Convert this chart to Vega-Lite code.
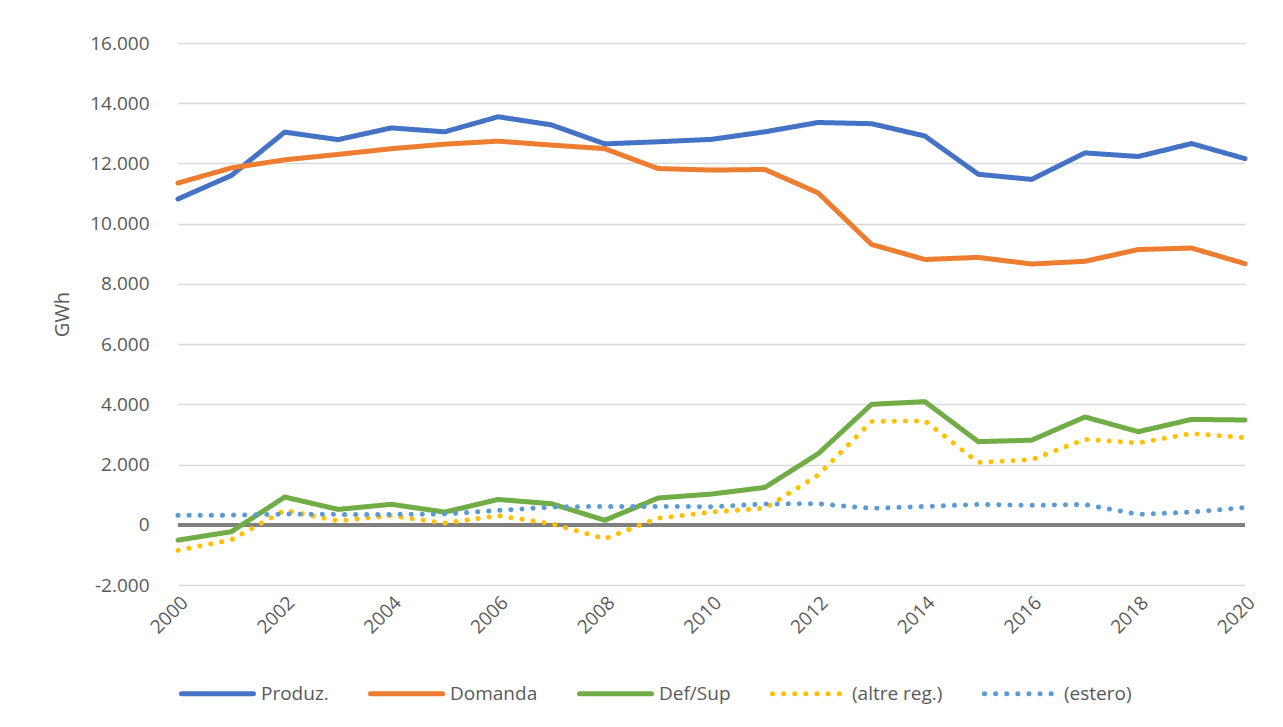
{
  "$schema": "https://vega.github.io/schema/vega-lite/v6.json",
  "width": 1067,
  "height": 542,
  "autosize": {"type": "none"},
  "padding": {"left": 178, "top": 43, "right": 38, "bottom": 142},
  "background": "white",
  "config": {"view": {"stroke": null}, "font": "Open Sans"},
  "data": {"values": [
    {"year": 2000, "series": "Produz.", "value": 10820},
    {"year": 2001, "series": "Produz.", "value": 11600},
    {"year": 2002, "series": "Produz.", "value": 13040},
    {"year": 2003, "series": "Produz.", "value": 12790},
    {"year": 2004, "series": "Produz.", "value": 13180},
    {"year": 2005, "series": "Produz.", "value": 13050},
    {"year": 2006, "series": "Produz.", "value": 13550},
    {"year": 2007, "series": "Produz.", "value": 13280},
    {"year": 2008, "series": "Produz.", "value": 12650},
    {"year": 2009, "series": "Produz.", "value": 12720},
    {"year": 2010, "series": "Produz.", "value": 12800},
    {"year": 2011, "series": "Produz.", "value": 13050},
    {"year": 2012, "series": "Produz.", "value": 13360},
    {"year": 2013, "series": "Produz.", "value": 13320},
    {"year": 2014, "series": "Produz.", "value": 12910},
    {"year": 2015, "series": "Produz.", "value": 11640},
    {"year": 2016, "series": "Produz.", "value": 11470},
    {"year": 2017, "series": "Produz.", "value": 12350},
    {"year": 2018, "series": "Produz.", "value": 12230},
    {"year": 2019, "series": "Produz.", "value": 12660},
    {"year": 2020, "series": "Produz.", "value": 12160},
    {"year": 2000, "series": "Domanda", "value": 11350},
    {"year": 2001, "series": "Domanda", "value": 11850},
    {"year": 2002, "series": "Domanda", "value": 12120},
    {"year": 2003, "series": "Domanda", "value": 12300},
    {"year": 2004, "series": "Domanda", "value": 12490},
    {"year": 2005, "series": "Domanda", "value": 12640},
    {"year": 2006, "series": "Domanda", "value": 12740},
    {"year": 2007, "series": "Domanda", "value": 12610},
    {"year": 2008, "series": "Domanda", "value": 12490},
    {"year": 2009, "series": "Domanda", "value": 11830},
    {"year": 2010, "series": "Domanda", "value": 11780},
    {"year": 2011, "series": "Domanda", "value": 11800},
    {"year": 2012, "series": "Domanda", "value": 11020},
    {"year": 2013, "series": "Domanda", "value": 9310},
    {"year": 2014, "series": "Domanda", "value": 8810},
    {"year": 2015, "series": "Domanda", "value": 8880},
    {"year": 2016, "series": "Domanda", "value": 8660},
    {"year": 2017, "series": "Domanda", "value": 8750},
    {"year": 2018, "series": "Domanda", "value": 9140},
    {"year": 2019, "series": "Domanda", "value": 9190},
    {"year": 2020, "series": "Domanda", "value": 8670},
    {"year": 2000, "series": "Def/Sup", "value": -510},
    {"year": 2001, "series": "Def/Sup", "value": -230},
    {"year": 2002, "series": "Def/Sup", "value": 920},
    {"year": 2003, "series": "Def/Sup", "value": 510},
    {"year": 2004, "series": "Def/Sup", "value": 680},
    {"year": 2005, "series": "Def/Sup", "value": 420},
    {"year": 2006, "series": "Def/Sup", "value": 840},
    {"year": 2007, "series": "Def/Sup", "value": 700},
    {"year": 2008, "series": "Def/Sup", "value": 150},
    {"year": 2009, "series": "Def/Sup", "value": 890},
    {"year": 2010, "series": "Def/Sup", "value": 1020},
    {"year": 2011, "series": "Def/Sup", "value": 1240},
    {"year": 2012, "series": "Def/Sup", "value": 2360},
    {"year": 2013, "series": "Def/Sup", "value": 4000},
    {"year": 2014, "series": "Def/Sup", "value": 4090},
    {"year": 2015, "series": "Def/Sup", "value": 2760},
    {"year": 2016, "series": "Def/Sup", "value": 2810},
    {"year": 2017, "series": "Def/Sup", "value": 3580},
    {"year": 2018, "series": "Def/Sup", "value": 3090},
    {"year": 2019, "series": "Def/Sup", "value": 3500},
    {"year": 2020, "series": "Def/Sup", "value": 3480},
    {"year": 2000, "series": "(altre reg.)", "value": -850},
    {"year": 2001, "series": "(altre reg.)", "value": -500},
    {"year": 2002, "series": "(altre reg.)", "value": 480},
    {"year": 2003, "series": "(altre reg.)", "value": 130},
    {"year": 2004, "series": "(altre reg.)", "value": 300},
    {"year": 2005, "series": "(altre reg.)", "value": 55},
    {"year": 2006, "series": "(altre reg.)", "value": 300},
    {"year": 2007, "series": "(altre reg.)", "value": 35},
    {"year": 2008, "series": "(altre reg.)", "value": -465},
    {"year": 2009, "series": "(altre reg.)", "value": 220},
    {"year": 2010, "series": "(altre reg.)", "value": 420},
    {"year": 2011, "series": "(altre reg.)", "value": 550},
    {"year": 2012, "series": "(altre reg.)", "value": 1650},
    {"year": 2013, "series": "(altre reg.)", "value": 3430},
    {"year": 2014, "series": "(altre reg.)", "value": 3450},
    {"year": 2015, "series": "(altre reg.)", "value": 2070},
    {"year": 2016, "series": "(altre reg.)", "value": 2160},
    {"year": 2017, "series": "(altre reg.)", "value": 2840},
    {"year": 2018, "series": "(altre reg.)", "value": 2720},
    {"year": 2019, "series": "(altre reg.)", "value": 3030},
    {"year": 2020, "series": "(altre reg.)", "value": 2890},
    {"year": 2000, "series": "(estero)", "value": 320},
    {"year": 2001, "series": "(estero)", "value": 320},
    {"year": 2002, "series": "(estero)", "value": 355},
    {"year": 2003, "series": "(estero)", "value": 345},
    {"year": 2004, "series": "(estero)", "value": 345},
    {"year": 2005, "series": "(estero)", "value": 355},
    {"year": 2006, "series": "(estero)", "value": 475},
    {"year": 2007, "series": "(estero)", "value": 590},
    {"year": 2008, "series": "(estero)", "value": 610},
    {"year": 2009, "series": "(estero)", "value": 610},
    {"year": 2010, "series": "(estero)", "value": 600},
    {"year": 2011, "series": "(estero)", "value": 690},
    {"year": 2012, "series": "(estero)", "value": 700},
    {"year": 2013, "series": "(estero)", "value": 545},
    {"year": 2014, "series": "(estero)", "value": 610},
    {"year": 2015, "series": "(estero)", "value": 675},
    {"year": 2016, "series": "(estero)", "value": 645},
    {"year": 2017, "series": "(estero)", "value": 675},
    {"year": 2018, "series": "(estero)", "value": 345},
    {"year": 2019, "series": "(estero)", "value": 420},
    {"year": 2020, "series": "(estero)", "value": 575}
  ]},
  "layer": [
    {
      "mark": {"type": "rule", "color": "#808080", "strokeWidth": 3},
      "encoding": {"y": {"datum": 0, "type": "quantitative", "title": "GWh"}}
    },
    {
      "mark": {"type": "line", "strokeWidth": 5, "strokeCap": "round", "strokeJoin": "round"},
      "encoding": {
        "x": {
          "field": "year", "type": "quantitative",
          "scale": {"domain": [2000, 2020], "nice": false, "zero": false},
          "axis": {
            "title": null, "values": [2000, 2002, 2004, 2006, 2008, 2010, 2012, 2014, 2016, 2018, 2020],
            "format": "d", "labelAngle": -45, "labelFontSize": 19, "labelColor": "#595959",
            "grid": false, "domain": false, "ticks": false, "labelPadding": 8
          }
        },
        "y": {
          "field": "value", "type": "quantitative",
          "scale": {"domain": [-2000, 16000], "nice": false},
          "axis": {
            "title": "GWh", "values": [-2000, 0, 2000, 4000, 6000, 8000, 10000, 12000, 14000, 16000],
            "labelExpr": "replace(replace(format(datum.value, ','), ',', '.'), '\u2212', '-')",
            "domain": false, "ticks": false, "grid": true, "gridColor": "#D9D9D9", "gridWidth": 1.5,
            "labelFontSize": 19, "labelColor": "#595959", "labelPadding": 29,
            "titleFontSize": 20, "titleColor": "#595959", "titleFontWeight": "normal", "titlePadding": 17
          }
        },
        "color": {
          "field": "series", "type": "nominal",
          "scale": {
            "domain": ["Produz.", "Domanda", "Def/Sup", "(altre reg.)", "(estero)"],
            "range": ["#4472C4", "#ED7D31", "#70AD47", "#FFC000", "#5B9BD5"]
          },
          "legend": {
            "title": null, "orient": "none", "legendX": 1, "legendY": 612, "direction": "horizontal",
            "labelFontSize": 19, "labelColor": "#595959", "symbolSize": 5184, "symbolStrokeWidth": 5,
            "columnPadding": 31, "labelOffset": 5,
            "encode": {"symbols": {"update": {"strokeCap": {"value": "round"}}}}
          }
        },
        "strokeDash": {
          "field": "series", "type": "nominal",
          "scale": {
            "domain": ["Produz.", "Domanda", "Def/Sup", "(altre reg.)", "(estero)"],
            "range": [[1, 0], [1, 0], [1, 0], [0.1, 11], [0.1, 11]]
          },
          "legend": {
            "title": null, "orient": "none", "legendX": 1, "legendY": 612, "direction": "horizontal",
            "labelFontSize": 19, "labelColor": "#595959", "symbolSize": 5184, "symbolStrokeWidth": 5,
            "columnPadding": 31, "labelOffset": 5,
            "encode": {"symbols": {"update": {"strokeCap": {"value": "round"}}}}
          }
        }
      }
    }
  ]
}
